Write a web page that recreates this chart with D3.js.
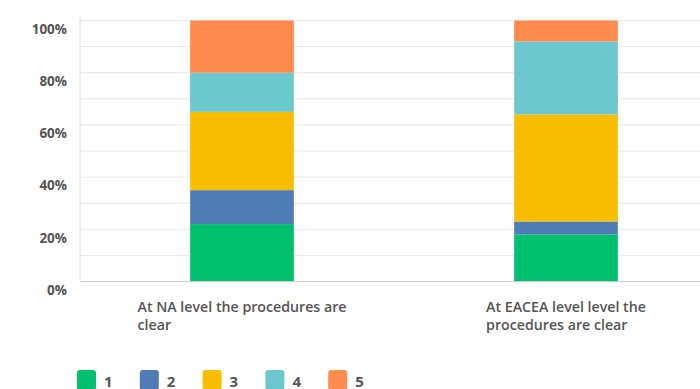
<!DOCTYPE html>
<html>
<head>
<meta charset="utf-8">
<script src="https://cdn.jsdelivr.net/npm/d3@7"></script>
<style>
  html, body { margin: 0; padding: 0; background: #fff; }
  svg { display: block; }
  text { font-family: "Open Sans", "Noto Sans", sans-serif; }
</style>
</head>
<body>
<svg id="chart" width="700" height="389"></svg>
<script>
// Survey statements (x categories) and answer scale (stack keys)
const categories = [
  "At NA level the procedures are clear",
  "At EACEA level level the procedures are clear"
];
const labelLines = [
  ["At NA level the procedures are", "clear"],
  ["At EACEA level level the", "procedures are clear"]
];
const keys = ["1", "2", "3", "4", "5"];
// Share of respondents (%) for each answer, per statement
const answer1 = [22, 18];
const answer2 = [13, 5];
const answer3 = [30, 41];
const answer4 = [15, 28];
const answer5 = [20, 8];
const yTicks = [0, 20, 40, 60, 80, 100];
const colors = ["#00bf6f", "#507cb6", "#f9be00", "#6bc8cd", "#ff8b4f"];

const rows = categories.map((c, i) => ({
  category: c,
  "1": answer1[i], "2": answer2[i], "3": answer3[i], "4": answer4[i], "5": answer5[i]
}));

const svg = d3.select("#chart");
const margin = { left: 80, top: 20.5, bottom: 281.5 };

const x = d3.scaleBand()
  .domain(categories)
  .range([margin.left, 728])
  .paddingInner(0.68)
  .paddingOuter(0.34);

const y = d3.scaleLinear().domain([0, 100]).range([margin.bottom, margin.top]);

// horizontal gridlines every 10%
svg.append("g")
  .selectAll("line")
  .data(d3.range(10, 101, 10))
  .join("line")
  .attr("x1", margin.left).attr("x2", 700)
  .attr("y1", d => y(d)).attr("y2", d => y(d))
  .attr("stroke", "#e8e8e8").attr("stroke-width", 1);

// left axis line
svg.append("line")
  .attr("x1", margin.left).attr("x2", margin.left)
  .attr("y1", margin.top - 3).attr("y2", margin.bottom)
  .attr("stroke", "#dcdcdc");

// y tick labels
const yAxis = d3.axisLeft(y).tickValues(yTicks).tickFormat(d => d + "%").tickSize(0).tickPadding(13);
const gy = svg.append("g").attr("transform", `translate(${margin.left},0)`).call(yAxis);
gy.select(".domain").remove();
gy.selectAll("text")
  .attr("dy", "0.95em")
  .attr("font-family", "'Open Sans', sans-serif")
  .attr("font-size", 13.5)
  .attr("font-weight", 700)
  .attr("fill", "#555");

// stacked bars
const stack = d3.stack().keys(keys)(rows);
svg.append("g")
  .selectAll("g")
  .data(stack)
  .join("g")
  .attr("fill", (d, i) => colors[i])
  .selectAll("rect")
  .data(d => d)
  .join("rect")
  .attr("x", d => x(d.data.category))
  .attr("width", x.bandwidth())
  .attr("y", d => y(d[1]))
  .attr("height", d => y(d[0]) - y(d[1]));

// baseline
svg.append("line")
  .attr("x1", margin.left).attr("x2", 700)
  .attr("y1", margin.bottom).attr("y2", margin.bottom)
  .attr("stroke", "#cfcfcf");

// category labels: lines left-aligned, block centred under the bar
const lab = svg.append("g");
categories.forEach((c, i) => {
  const t = lab.append("text")
    .attr("font-size", 14.2)
    .attr("font-weight", 600)
    .attr("fill", "#555");
  labelLines[i].forEach((line, j) => {
    t.append("tspan").attr("x", 0).attr("y", 312 + j * 17.5).text(line);
  });
  const w = t.node().getBBox().width;
  const cx = x(c) + x.bandwidth() / 2;
  t.attr("transform", `translate(${cx - w / 2},0)`);
});

// legend
const legend = svg.append("g")
  .selectAll("g")
  .data(keys)
  .join("g")
  .attr("transform", (d, i) => `translate(${77 + i * 62.8},370)`);
legend.append("rect")
  .attr("width", 19).attr("height", 20).attr("rx", 3)
  .attr("fill", (d, i) => colors[i]);
legend.append("text")
  .attr("x", 27).attr("y", 16.5)
  .attr("font-size", 15)
  .attr("font-weight", 700)
  .attr("fill", "#555")
  .text(d => d);
</script>
</body>
</html>
